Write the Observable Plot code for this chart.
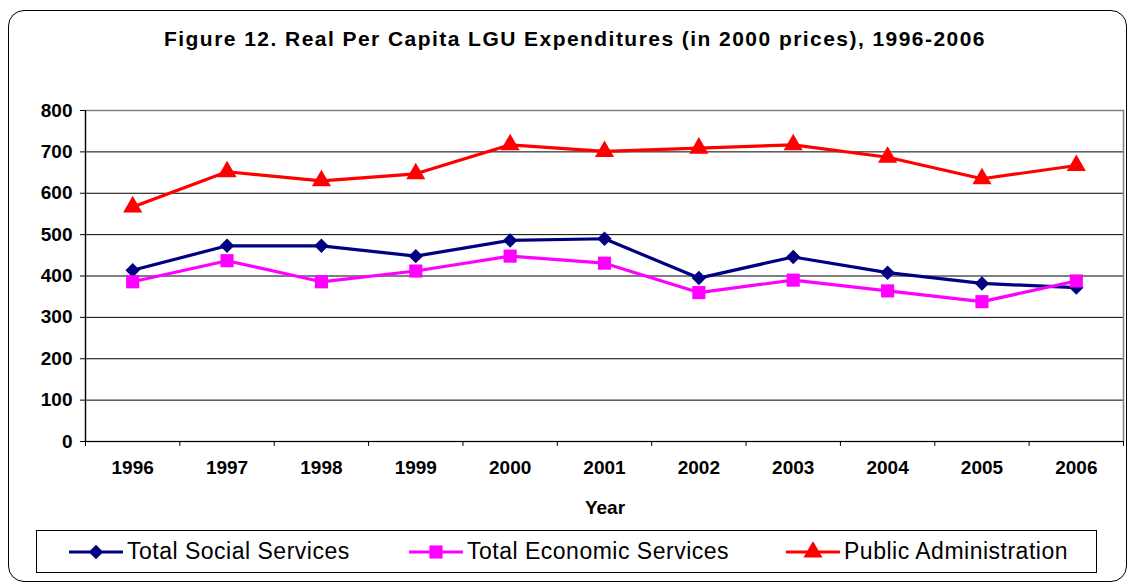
<!DOCTYPE html>
<html>
<head>
<meta charset="utf-8">
<script src="https://cdn.jsdelivr.net/npm/d3@7"></script>
<script src="https://cdn.jsdelivr.net/npm/@observablehq/plot@0.6"></script>
<style>
  body { margin: 0; background: #fff; font-family: "Liberation Sans", Arial, sans-serif; }
  #wrap { position: relative; width: 1130px; height: 586px; overflow: hidden; }
  #border { position: absolute; left: 8px; top: 10px; width: 1117px; height: 570px; border: 1.5px solid #000; border-radius: 16px; }
  #title { position: absolute; left: 0; width: 1150px; top: 27px; text-align: center; font-weight: bold; font-size: 21px; letter-spacing: 1.45px; color: #000; white-space: nowrap; }
  #xlabel { position: absolute; left: 555px; width: 100px; top: 497px; text-align: center; font-weight: bold; font-size: 19px; }
  #legend { position: absolute; left: 36px; top: 530px; width: 1059px; height: 41px; border: 1px solid #000; background: #fff; }
  .item { position: absolute; top: 0; height: 41px; display: flex; align-items: center; font-size: 23px; letter-spacing: 0.5px; white-space: nowrap; }
  .item svg { display: block; margin-right: 3px; }
  #chart { position: absolute; left: 0; top: 0; }
</style>
</head>
<body>
<div id="wrap">
  <div id="border"></div>
  <div id="chart"></div>
  <div id="title">Figure 12. Real Per Capita LGU Expenditures (in 2000 prices), 1996-2006</div>
  <div id="xlabel">Year</div>
  <div id="legend"></div>
</div>
<script>
const years = [1996, 1997, 1998, 1999, 2000, 2001, 2002, 2003, 2004, 2005, 2006];
const socialServices   = [414, 473, 473, 448, 486, 490, 395, 446, 408, 382, 372];
const economicServices = [386, 437, 386, 412, 448, 431, 360, 390, 364, 338, 388];
const publicAdmin      = [567, 652, 630, 647, 717, 701, 709, 717, 687, 635, 667];
const yTicks = [0, 100, 200, 300, 400, 500, 600, 700, 800];
const seriesNames = ["Total Social Services", "Total Economic Services", "Public Administration"];
const seriesColors = ["#000080", "#FF00FF", "#FF0000"];
const seriesSymbols = ["diamond2", "square", "triangle"];
const seriesR = [6.5, 7.4, 7.1];

const allValues = [socialServices, economicServices, publicAdmin];
const data = [];
allValues.forEach((vals, i) => vals.forEach((v, j) => data.push({series: seriesNames[i], year: years[j], value: v})));
const boundaries = years.map(y => y - 0.5).concat([years[years.length - 1] + 0.5]);

const font = {fontFamily: "'Liberation Sans', Arial, sans-serif"};

const plot = Plot.plot({
  width: 1130,
  height: 586,
  marginLeft: 85,
  marginRight: 7,
  marginTop: 110,
  marginBottom: 145,
  style: {...font, background: "transparent", overflow: "visible"},
  x: {type: "linear", domain: [boundaries[0], boundaries[boundaries.length - 1]]},
  y: {domain: [0, 800]},
  color: {domain: seriesNames, range: seriesColors},
  marks: [
    Plot.gridY(yTicks, {stroke: "#000", strokeOpacity: 1, strokeWidth: 1}),
    Plot.frame({stroke: "#808080", strokeWidth: 1.5}),
    Plot.ruleY([0], {stroke: "#000", strokeWidth: 1.2}),
    Plot.ruleX([boundaries[0]], {stroke: "#000", strokeWidth: 1.2}),
    Plot.axisY({ticks: yTicks, tickSize: 5, tickPadding: 8, fontSize: 19, fontWeight: "bold", label: null, stroke: "#000", fill: "#000"}),
    Plot.axisX({ticks: boundaries, tickSize: 5, tickFormat: () => "", label: null, stroke: "#000"}),
    Plot.axisX({ticks: years, tickSize: 0, tickPadding: 19, tickFormat: d => String(d), fontSize: 19, fontWeight: "bold", label: null, fill: "#000"}),
    ...seriesNames.map((name, i) => Plot.line(data.filter(d => d.series === name), {x: "year", y: "value", stroke: seriesColors[i], strokeWidth: 3.2})),
    ...seriesNames.map((name, i) => Plot.dot(data.filter(d => d.series === name), {x: "year", y: "value", symbol: seriesSymbols[i], fill: seriesColors[i], stroke: "none", r: seriesR[i]}))
  ]
});
document.getElementById("chart").appendChild(plot);

// legend
const legend = document.getElementById("legend");
const legendX = [31, 371, 748];
seriesNames.forEach((name, i) => {
  const item = document.createElement("div");
  item.className = "item";
  item.style.left = legendX[i] + "px";
  const sw = d3.create("svg").attr("width", 56).attr("height", 20);
  sw.append("line").attr("x1", 1).attr("x2", 55).attr("y1", 10).attr("y2", 10)
    .attr("stroke", seriesColors[i]).attr("stroke-width", 3.2);
  const symMap = {diamond2: d3.symbolDiamond2, square: d3.symbolSquare, triangle: d3.symbolTriangle};
  sw.append("path").attr("transform", "translate(28,10)")
    .attr("d", d3.symbol(symMap[seriesSymbols[i]], Math.PI * seriesR[i] * seriesR[i])())
    .attr("fill", seriesColors[i]);
  item.appendChild(sw.node());
  const t = document.createElement("span");
  t.textContent = name;
  item.appendChild(t);
  legend.appendChild(item);
});
</script>
</body>
</html>
